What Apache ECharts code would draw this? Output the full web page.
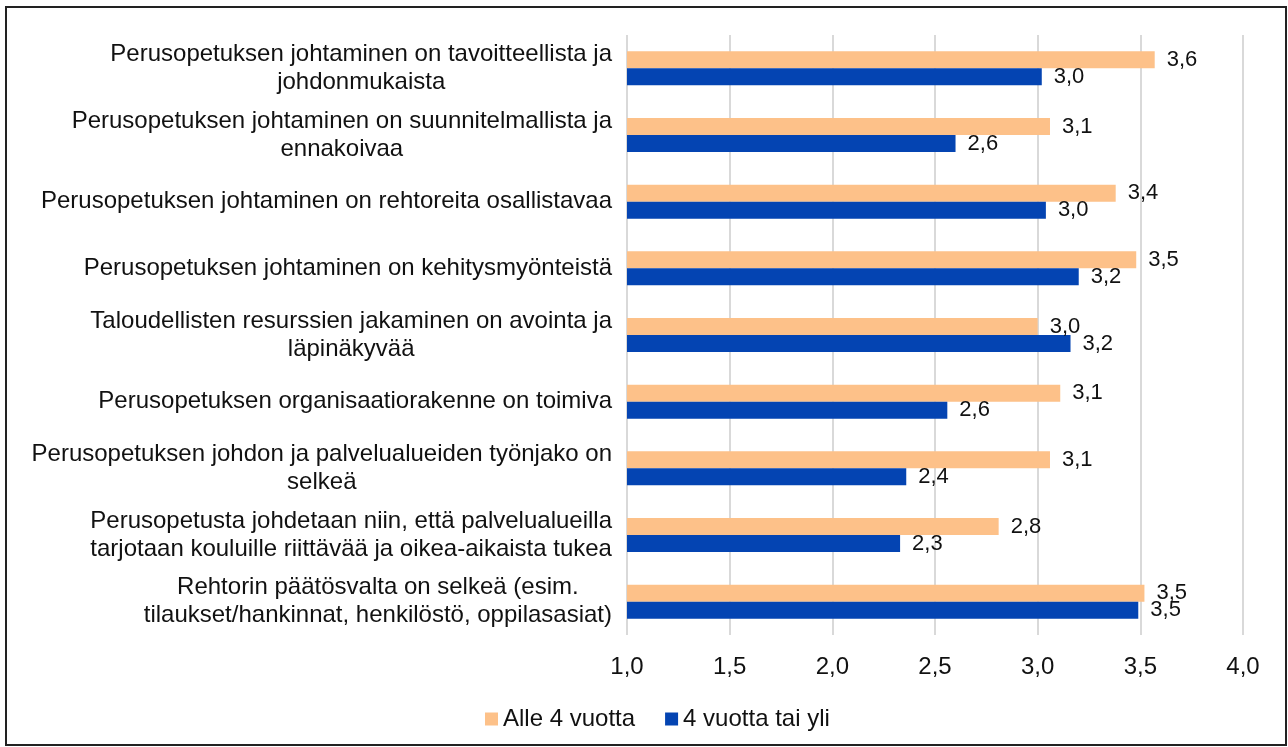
<!DOCTYPE html>
<html>
<head>
<meta charset="utf-8">
<title>Perusopetuksen johtaminen</title>
<script src="https://cdn.jsdelivr.net/npm/echarts@6/dist/echarts.min.js"></script>
<style>
  html, body { margin: 0; padding: 0; background: #fff; }
  #chart { width: 1288px; height: 747px; }
</style>
</head>
<body>
<div id="chart"></div>
<script>
var categories = [
    'Perusopetuksen johtaminen on tavoitteellista ja\njohdonmukaista',
    'Perusopetuksen johtaminen on suunnitelmallista ja\nennakoivaa',
    'Perusopetuksen johtaminen on rehtoreita osallistavaa',
    'Perusopetuksen johtaminen on kehitysmyönteistä',
    'Taloudellisten resurssien jakaminen on avointa ja\nläpinäkyvää',
    'Perusopetuksen organisaatiorakenne on toimiva',
    'Perusopetuksen johdon ja palvelualueiden työnjako on\nselkeä',
    'Perusopetusta johdetaan niin, että palvelualueilla\ntarjotaan kouluille riittävää ja oikea-aikaista tukea',
    'Rehtorin päätösvalta on selkeä (esim.\ntilaukset/hankinnat, henkilöstö, oppilasasiat)'
];
var seriesNames = ['Alle 4 vuotta', '4 vuotta tai yli'];
var alle4 = [3.57, 3.06, 3.38, 3.48, 3.00, 3.11, 3.06, 2.81, 3.52];
var yli4 = [3.02, 2.60, 3.04, 3.20, 3.16, 2.56, 2.36, 2.33, 3.49];

var FONT = '"Liberation Sans", Arial, sans-serif';

function comma(v) {
    return v.toFixed(1).replace('.', ',');
}

function barLabel() {
    return {
        show: true,
        position: 'right',
        distance: 12,
        fontSize: 22,
        color: '#111',
        fontFamily: FONT,
        formatter: function (p) { return comma(p.value); }
    };
}

var chart = echarts.init(document.getElementById('chart'), null, { renderer: 'canvas' });
var option = {
    backgroundColor: '#fff',
    animation: false,
    textStyle: { fontFamily: FONT },
    graphic: [{
        type: 'rect',
        shape: { x: 6, y: 7, width: 1280, height: 738 },
        style: { fill: 'none', stroke: '#222', lineWidth: 2 }
    }],
    legend: {
        data: seriesNames,
        left: 480,
        top: 702,
        icon: 'rect',
        itemWidth: 13,
        itemHeight: 13,
        itemGap: 30,
        textStyle: { fontSize: 24, color: '#111', fontFamily: FONT }
    },
    grid: {
        left: 627,
        right: 45,
        top: 35,
        bottom: 112,
        containLabel: false
    },
    xAxis: {
        type: 'value',
        min: 1,
        max: 4,
        interval: 0.5,
        axisLine: { show: false },
        axisTick: { show: false },
        splitLine: { show: true, lineStyle: { color: '#d9d9d9', width: 2 } },
        axisLabel: {
            margin: 20,
            fontSize: 24,
            color: '#111',
            fontFamily: FONT,
            formatter: function (v) { return comma(v); }
        }
    },
    yAxis: {
        type: 'category',
        inverse: true,
        data: categories,
        axisLine: { show: false },
        axisTick: { show: false },
        axisLabel: {
            margin: 15,
            align: 'right',
            rich: {
                // lines centred inside the right-aligned block
                c: {
                    align: 'center',
                    fontSize: 24,
                    fontFamily: FONT,
                    color: '#111',
                    lineHeight: 28
                }
            },
            formatter: function (value) {
                return value.split('\n').map(function (line) {
                    return '{c|' + line + '}';
                }).join('\n');
            }
        }
    },
    series: [
        {
            name: seriesNames[0],
            type: 'bar',
            data: alle4,
            barWidth: 17,
            barGap: '0%',
            itemStyle: { color: '#FDC189' },
            label: barLabel()
        },
        {
            name: seriesNames[1],
            type: 'bar',
            data: yli4,
            barWidth: 17,
            barGap: '0%',
            itemStyle: { color: '#0444B2' },
            label: barLabel()
        }
    ]
};
chart.setOption(option);
</script>
</body>
</html>
